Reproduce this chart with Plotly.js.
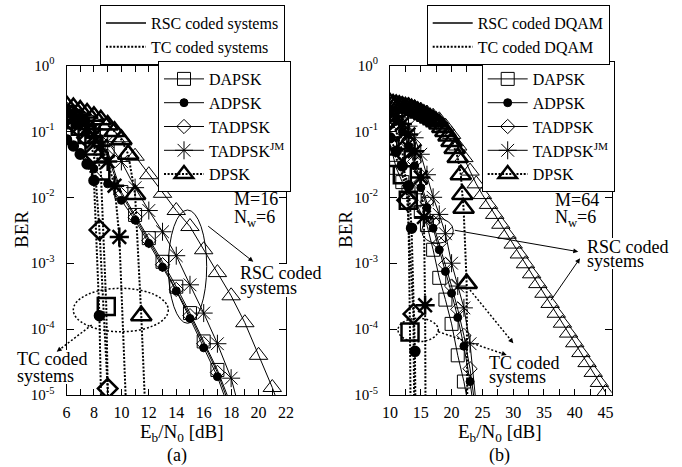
<!DOCTYPE html>
<html><head><meta charset="utf-8">
<script src="https://cdn.plot.ly/plotly-3.0.1.min.js"></script>
<style>html,body{margin:0;padding:0;background:#fff}#chart{width:682px;height:467px}</style>
</head><body><div id="chart"></div>
<script>
// ================= Panel (a): M=16, Nw=6 =================
const snrA_rsc      = [6,7,8,9,10,11,12,13,14,15,16,17,18];
const berA_DAPSK    = [0.19,0.15,0.10,0.05,0.012,5.4e-3,2.4e-3,1.05e-3,4.4e-4,1.75e-4,6.5e-5,2.4e-5,7e-6];
const berA_ADPSK    = [0.075,0.048,0.027,0.016,9e-3,4.5e-3,2e-3,8.7e-4,3.8e-4,1.45e-4,5.2e-5,1.9e-5,5e-6];
const berA_TADPSK   = [0.18,0.14,0.09,0.042,0.011,5e-3,2.2e-3,9.5e-4,4e-4,1.6e-4,6e-5,2.2e-5,6e-6];
const snrA_jm       = [6,7,8,9,10,11,12,13,14,15,16,17,18,19];
const berA_JM       = [0.2,0.15,0.11,0.07,0.035,0.014,6.3e-3,3e-3,1.3e-3,4.7e-4,1.75e-4,6e-5,1.8e-5,3e-6];
const snrA_dpsk     = [6,7,8,9,10,11,12,13,14,15,16,17,18,19,20,21,22];
const berA_DPSK     = [0.25,0.21,0.17,0.125,0.08,0.042,0.022,0.0115,0.0063,0.0036,0.0016,7.2e-4,3.2e-4,1.25e-4,4e-5,1.3e-5,3.5e-6];
// turbo coded (TC)
const snrA_tcADPSK  = [6,6.5,7,7.5,8,8.4,8.6];
const berA_tcADPSK  = [0.075,0.06,0.045,0.032,0.018,1.6e-4,1e-6];
const snrA_tcDAPSK  = [6,6.5,7,7.5,8,8.5,8.9,9.1];
const berA_tcDAPSK  = [0.18,0.15,0.12,0.09,0.06,0.025,2.2e-4,1e-6];
const snrA_tcTADPSK = [6,6.5,7,7.5,8,8.4,9.0,9.1];
const berA_tcTADPSK = [0.17,0.14,0.11,0.08,0.045,3.2e-3,1.25e-5,1e-6];
const snrA_tcJM     = [6,6.5,7,7.5,8,8.5,9,9.5,9.85,10.5];
const berA_tcJM     = [0.2,0.17,0.14,0.11,0.085,0.06,0.035,0.015,2.5e-3,1e-6];
const snrA_tcDPSK   = [6,6.5,7,7.5,8,8.5,9,9.5,10,10.5,11,11.45,11.9];
const berA_tcDPSK   = [0.25,0.23,0.21,0.19,0.17,0.15,0.125,0.1,0.075,0.045,0.011,1.6e-4,1e-6];

// ================= Panel (b): M=64, Nw=6 =================
const snrB_dapsk    = [10,11,12,13,14,15,16,17,18,19,20,21,22,23];
const berB_DAPSK    = [0.065,0.028,0.017,0.012,9e-3,6e-3,3.8e-3,1.6e-3,6e-4,2.8e-4,1.2e-4,4e-5,1.6e-5,5e-6];
const snrB_rsc      = [10,11,12,13,14,15,16,17,18,19,20,21,22,23,24];
const berB_ADPSK    = [0.2,0.15,0.1,0.06,0.03,0.014,7e-3,3.4e-3,1.6e-3,7.5e-4,3.5e-4,1.5e-4,5.5e-5,1.6e-5,3e-6];
const berB_TADPSK   = [0.17,0.14,0.1,0.065,0.035,0.017,8.5e-3,4.2e-3,2e-3,9.5e-4,4.5e-4,2e-4,8e-5,2.5e-5,5e-6];
const berB_JM       = [0.22,0.19,0.16,0.12,0.08,0.045,0.022,0.01,5.5e-3,2.8e-3,1e-3,4.5e-4,2.1e-4,6e-5,7e-6];
const snrB_dpsk     = [10,11,12,13,14,15,16,17,18,19,20,21,22,23,24,25,26,27,28,29,30,31,32,33,34,35,36,37,38,39,40,41,42,43,44,45];
const berB_DPSK     = [0.28,0.27,0.26,0.25,0.23,0.21,0.19,0.17,0.15,0.12,0.09,0.06,0.04,0.025,0.016,0.011,7.8e-3,5.5e-3,3.9e-3,2.75e-3,1.95e-3,1.38e-3,9.8e-4,6.9e-4,4.9e-4,3.5e-4,2.45e-4,1.74e-4,1.23e-4,8.7e-5,6.2e-5,4.4e-5,3.1e-5,2.2e-5,1.55e-5,1.1e-5];
const snrB_tcADPSK  = [10,11,12,13,13.5,14.05,14.2];
const berB_tcADPSK  = [0.08,0.05,0.03,0.015,3.4e-3,4.6e-5,1e-6];
const snrB_tcDAPSK  = [10,11,12,12.97,13.25,13.4];
const berB_tcDAPSK  = [0.06,0.04,0.022,9e-3,9e-5,1e-6];
const snrB_tcTADPSK = [10,11,12,12.8,13.8,14];
const berB_tcTADPSK = [0.15,0.1,0.05,9e-3,1.7e-4,1e-6];
const snrB_tcJM     = [10,11,12,13,14,15,15.5,15.7,15.8];
const berB_tcJM     = [0.2,0.17,0.13,0.09,0.05,0.02,5e-3,2.3e-4,1e-6];
const snrB_tcDPSK   = [10,10.5,11,11.5,12,12.5,13,13.5,14,14.5,15,15.5,16,16.5,17,17.5,18,18.5,19,19.5,20,20.5,21,21.5,21.75,21.95,22.45,22.6];
const berB_tcDPSK   = [0.27,0.26,0.255,0.25,0.24,0.235,0.23,0.22,0.21,0.2,0.19,0.18,0.17,0.16,0.15,0.14,0.13,0.115,0.1,0.085,0.07,0.055,0.04,0.022,0.011,6.8e-3,4.9e-4,1e-6];

// ================= tick labels =================
const xTickValsA = [6,7,8,9,10,11,12,13,14,15,16,17,18,19,20,21,22];
const xTickTextA = ['6','','8','','10','','12','','14','','16','','18','','20','','22'];
const xTickValsB = [10,12.5,15,17.5,20,22.5,25,27.5,30,32.5,35,37.5,40,42.5,45];
const xTickTextB = ['10','','15','','20','','25','','30','','35','','40','','45'];
const yTickVals  = [1e-5,1e-4,1e-3,1e-2,1e-1,1];
const yTickText  = ['10<sup>-5</sup>','10<sup>-4</sup>','10<sup>-3</sup>','10<sup>-2</sup>','10<sup>-1</sup>','10<sup>0</sup>'];
const legendNames = ['DAPSK','ADPSK','TADPSK','TADPSK<sup>JM</sup>','DPSK'];

// ================= helpers =================
const FONT = 'Liberation Serif, Times New Roman, serif';
const K = '#000';
const TCDASH = '2px,1.6px';
function rsc(x, y, sym, size, xa, ya, name, leg, rank) {
  return {type:'scatter', mode:'lines+markers', x:x, y:y, xaxis:xa, yaxis:ya,
    name:name, legend:leg, legendrank:rank, showlegend: !!name,
    line:{color:K, width:1},
    marker:{symbol:sym, size:size, color:K, line:{color:K, width:1}}, cliponaxis:true};
}
function tc(x, y, sym, size, xa, ya, name, leg, rank) {
  return {type:'scatter', mode:'lines+markers', x:x, y:y, xaxis:xa, yaxis:ya,
    name:name, legend:leg, legendrank:rank, showlegend: !!name,
    line:{color:K, width:2, dash:TCDASH},
    marker:{symbol:sym, size:size, color:K, line:{color:K, width:2.5}}, cliponaxis:true};
}
function styleLeg(name, dash, width, leg, rank) {
  return {type:'scatter', mode:'lines', x:[null], y:[null], xaxis:'x', yaxis:'y',
    name:name, legend:leg, legendrank:rank, showlegend:true,
    line:{color:K, width:width, dash:dash}};
}

const traces = [
  tc(snrA_tcADPSK, berA_tcADPSK, 'circle', 9, 'x','y'),
  tc(snrA_tcDAPSK, berA_tcDAPSK, 'square-open', 17, 'x','y'),
  tc(snrA_tcTADPSK, berA_tcTADPSK, 'diamond-open', 15, 'x','y'),
  tc(snrA_tcJM, berA_tcJM, 'asterisk-open', 16, 'x','y'),
  tc(snrA_tcDPSK, berA_tcDPSK, 'triangle-up-open', 18, 'x','y', legendNames[4], 'legend2', 5),
  rsc(snrA_rsc, berA_DAPSK, 'square-open', 13, 'x','y', legendNames[0], 'legend2', 1),
  rsc(snrA_rsc, berA_ADPSK, 'circle', 8, 'x','y', legendNames[1], 'legend2', 2),
  rsc(snrA_rsc, berA_TADPSK, 'diamond-open', 11, 'x','y', legendNames[2], 'legend2', 3),
  rsc(snrA_jm, berA_JM, 'asterisk-open', 15, 'x','y', legendNames[3], 'legend2', 4),
  rsc(snrA_dpsk, berA_DPSK, 'triangle-up-open', 16, 'x','y'),
  tc(snrB_tcADPSK, berB_tcADPSK, 'circle', 9, 'x2','y2'),
  tc(snrB_tcDAPSK, berB_tcDAPSK, 'square-open', 17, 'x2','y2'),
  tc(snrB_tcTADPSK, berB_tcTADPSK, 'diamond-open', 15, 'x2','y2'),
  tc(snrB_tcJM, berB_tcJM, 'asterisk-open', 16, 'x2','y2'),
  tc(snrB_tcDPSK, berB_tcDPSK, 'triangle-up-open', 18, 'x2','y2', legendNames[4], 'legend4', 5),
  rsc(snrB_dapsk, berB_DAPSK, 'square-open', 13, 'x2','y2', legendNames[0], 'legend4', 1),
  rsc(snrB_rsc, berB_ADPSK, 'circle', 8, 'x2','y2', legendNames[1], 'legend4', 2),
  rsc(snrB_rsc, berB_TADPSK, 'diamond-open', 11, 'x2','y2', legendNames[2], 'legend4', 3),
  rsc(snrB_rsc, berB_JM, 'asterisk-open', 15, 'x2','y2', legendNames[3], 'legend4', 4),
  rsc(snrB_dpsk, berB_DPSK, 'triangle-up-open', 16, 'x2','y2'),
  styleLeg('RSC coded systems', 'solid', 1.5, 'legend', 1),
  styleLeg('TC coded systems', TCDASH, 2, 'legend', 2),
  styleLeg('RSC coded DQAM', 'solid', 1.5, 'legend3', 1),
  styleLeg('TC coded DQAM', TCDASH, 2, 'legend3', 2)
];

const W = 682, H = 467;
const px = v => v / W, py = v => 1 - v / H;

function xaxis(dom, range, tv, tt) {
  return {domain:dom, range:range, showline:true, linecolor:K, linewidth:1, mirror:'ticks',
    ticks:'inside', ticklen:6, tickcolor:K, tickwidth:1, tickvals:tv, ticktext:tt, automargin:false,
    showgrid:false, zeroline:false, tickfont:{family:FONT, size:16, color:K}, ticklabelstandoff:3};
}
function yaxis(dom, anchor) {
  return {domain:dom, type:'log', range:[-5,0], anchor:anchor, showline:true, linecolor:K, linewidth:1,
    mirror:'ticks', ticks:'inside', ticklen:7, tickcolor:K, tickwidth:1, tickvals:yTickVals, ticktext:yTickText,
    showgrid:false, zeroline:false, tickfont:{family:FONT, size:15, color:K}, ticklabelstandoff:8, automargin:false};
}
function legendBox(x, y) {
  return {x:px(x), y:py(y), xref:'container', yref:'container', xanchor:'left', yanchor:'top',
    bordercolor:K, borderwidth:1, bgcolor:'#fff', font:{family:FONT, size:16, color:K},
    itemwidth:40, tracegroupgap:0, traceorder:'normal'};
}
const yDom = [1 - 395/H, 1 - 65.5/H];

function txt(x, y, t, opts) {
  return Object.assign({xref:'paper', yref:'paper', x:px(x), y:py(y), text:t, showarrow:false,
    xanchor:'left', yanchor:'middle', font:{family:FONT, size:18, color:K}}, opts || {});
}
function arrowHead(hx, hy, tx, ty) {
  return {xref:'paper', yref:'paper', x:px(hx), y:py(hy), ax:tx - hx, ay:ty - hy, text:'',
    showarrow:true, arrowhead:2, arrowsize:1, arrowwidth:1, arrowcolor:K, standoff:0, startstandoff:0};
}
function dotLine(x0, y0, x1, y1) {
  return {type:'line', xref:'paper', yref:'paper', x0:px(x0), y0:py(y0), x1:px(x1), y1:py(y1),
    line:{color:K, width:1.5, dash:'2px,2px'}};
}
function ellipse(x0, y0, x1, y1, dash) {
  return {type:'circle', xref:'paper', yref:'paper', x0:px(x0), y0:py(y0), x1:px(x1), y1:py(y1),
    line:{color:K, width:dash ? 1.5 : 1, dash:dash || 'solid'}};
}
function mask(x0, y0, x1, y1) {
  return {type:'rect', xref:'paper', yref:'paper', layer:'above', x0:px(x0), y0:py(y0), x1:px(x1), y1:py(y1),
    fillcolor:'#fff', line:{width:0}};
}

const layout = {
  width:W, height:H, margin:{l:0, r:0, t:0, b:0, autoexpand:false}, paper_bgcolor:'#fff', plot_bgcolor:'#fff',
  font:{family:FONT, color:K},
  xaxis: xaxis([66.5/W, 286/W], [6,22], xTickValsA, xTickTextA),
  yaxis: yaxis(yDom, 'x'),
  xaxis2: Object.assign(xaxis([390/W, 611.7/W], [10,46], xTickValsB, xTickTextB), {anchor:'y2'}),
  yaxis2: yaxis(yDom, 'x2'),
  legend: legendBox(100, 5),
  legend2: legendBox(158, 61),
  legend3: legendBox(426.7, 5),
  legend4: legendBox(481.7, 61),
  shapes: [
    ellipse(168.3, 210, 206.7, 323.3),
    ellipse(73.3, 288.3, 168.3, 331.7, '2px,2px'),
    dotLine(91.7, 325, 58, 350.7),
    ellipse(421.7, 218.3, 453.3, 243.3),
    ellipse(398, 318.3, 438.3, 341.7, '2px,2px'),
    dotLine(438.3, 331.7, 505.5, 354.6),
    dotLine(470, 290, 512.4, 342),
    mask(278, 264, 322, 297),
    mask(14, 350, 99, 384),
    mask(598, 238, 669, 269)
  ],
  annotations: [
    txt(232, 199.3, 'M=16'), txt(232, 218.3, 'N<sub>w</sub>=6'),
    txt(238, 273, 'RSC coded'), txt(238, 287.5, 'systems'),
    txt(15, 359, 'TC coded'), txt(15, 375.5, 'systems'),
    arrowHead(253.3, 261.7, 206.7, 225),
    arrowHead(56.7, 351.7, 62, 347.6),
    txt(553.3, 200, 'M=64'), txt(553.3, 218.3, 'N<sub>w</sub>=6'),
    txt(585, 246.7, 'RSC coded'), txt(585, 260.5, 'systems'),
    txt(486.7, 363.3, 'TC coded'), txt(486.7, 377.3, 'systems'),
    arrowHead(578.3, 251.7, 453.3, 230),
    arrowHead(580, 258.3, 550, 301.7),
    arrowHead(506.7, 355, 500, 352.7),
    arrowHead(513.3, 343.3, 509, 338),
    txt(182, 433, 'E<sub>b</sub>/N<sub>0</sub> [dB]', {xanchor:'center', font:{family:FONT, size:19, color:K}}),
    txt(500, 433, 'E<sub>b</sub>/N<sub>0</sub> [dB]', {xanchor:'center', font:{family:FONT, size:19, color:K}}),
    txt(22, 230, 'BER', {xanchor:'center', textangle:-90, font:{family:FONT, size:19, color:K}}),
    txt(346, 230, 'BER', {xanchor:'center', textangle:-90, font:{family:FONT, size:19, color:K}}),
    txt(177, 455, '(a)', {xanchor:'center'}),
    txt(499, 455, '(b)', {xanchor:'center'})
  ]
};

Plotly.newPlot('chart', traces, layout, {staticPlot:true, displayModeBar:false});
</script>
</body></html>
